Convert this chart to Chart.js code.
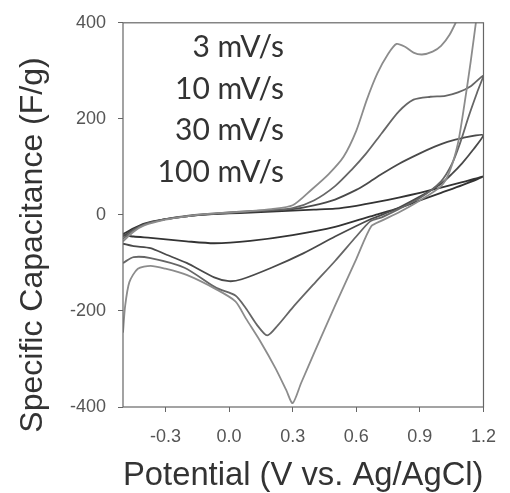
<!DOCTYPE html>
<html>
<head>
<meta charset="UTF-8">
<title>CV</title>
<style>
  body { margin: 0; background: #fff; }
  #wrap { width: 510px; height: 493px; }
</style>
</head>
<body>
<div id="wrap"><canvas id="cvChart" width="510" height="493"></canvas></div>

<script src="https://cdn.jsdelivr.net/npm/chart.js"></script>
<script>
// scan rates (legend text written inside the plot)
const scanRates = ['3 mV/s', '10 mV/s', '30 mV/s', '100 mV/s'];

// each loop: forward scan -0.5 -> 1.2 V, then back to -0.5 V
const pot3 = [-0.5, -0.45, -0.4, -0.3, -0.2, -0.1, 0.0, 0.1, 0.2, 0.3, 0.39, 0.47, 0.54, 0.6, 0.65, 0.7, 0.75, 0.79, 0.83, 0.87, 0.91, 0.96, 1.0, 1.04, 1.08, 1.14, 1.2,
  1.17, 1.14, 1.11, 1.08, 1.04, 1.0, 0.9, 0.8, 0.72, 0.67, 0.6, 0.5, 0.4, 0.34, 0.3, 0.27, 0.22, 0.15, 0.08, 0.03, -0.06, -0.2, -0.3, -0.37, -0.43, -0.47, -0.49, -0.5];
const cap3 = [-55, -35, -22, -10, -3, 2, 5, 8, 12, 20, 53, 85, 121, 175, 240, 295, 335, 356, 350, 338, 334, 340, 352, 375, 410, 460, 520,
  420, 320, 230, 150, 90, 60, 30, 5, -12, -24, -92, -189, -289, -350, -392, -365, -320, -265, -216, -180, -155, -125, -112, -106, -112, -140, -190, -245];

const pot10 = [-0.5, -0.45, -0.4, -0.3, -0.2, -0.1, 0.0, 0.1, 0.2, 0.3, 0.4, 0.5, 0.58, 0.645, 0.72, 0.8, 0.87, 0.95, 1.02, 1.08, 1.14, 1.2,
  1.17, 1.13, 1.09, 1.05, 1.0, 0.9, 0.8, 0.72, 0.667, 0.6, 0.5, 0.4, 0.3, 0.23, 0.18, 0.13, 0.08, 0.03, -0.06, -0.21, -0.37, -0.45, -0.5];
const cap10 = [-50, -32, -20, -9, -2, 2, 5, 8, 10, 14, 30, 60, 95, 127, 170, 215, 240, 246, 248, 255, 268, 290,
  255, 205, 150, 105, 70, 35, 12, -5, -13, -45, -96, -144, -193, -230, -251, -228, -195, -168, -152, -110, -90, -88, -100];

const pot30 = [-0.5, -0.45, -0.4, -0.3, -0.2, -0.1, 0.0, 0.1, 0.2, 0.3, 0.4, 0.5, 0.6, 0.65, 0.72, 0.8, 0.9, 0.97, 1.03, 1.1, 1.2,
  1.15, 1.1, 1.05, 1.0, 0.9, 0.8, 0.72, 0.667, 0.5, 0.35, 0.2, 0.06, 0.0, -0.07, -0.2, -0.3, -0.37, -0.45, -0.5];
const cap30 = [-45, -30, -20, -9, -3, 1, 4, 7, 9, 12, 20, 32, 52, 65, 85, 106, 128, 142, 152, 160, 166,
  135, 108, 85, 65, 38, 15, 0, -9, -45, -80, -110, -134, -138, -130, -100, -82, -69, -65, -60];

const pot100 = [-0.5, -0.45, -0.4, -0.3, -0.2, -0.1, 0.0, 0.1, 0.2, 0.3, 0.4, 0.5, 0.6, 0.7, 0.8, 0.9, 1.0, 1.1, 1.2,
  1.1, 1.0, 0.9, 0.8, 0.7, 0.667, 0.5, 0.3, 0.1, -0.07, -0.2, -0.37, -0.45, -0.5];
const cap100 = [-40, -28, -18, -9, -3, 1, 3, 5, 7, 9, 11, 13, 19, 27, 36, 46, 57, 68, 80,
  62, 46, 30, 14, 1, -3, -25, -42, -54, -59, -55, -48, -45, -42];

const xTicks = [-0.3, 0.0, 0.3, 0.6, 0.9, 1.2];
const yTicks = [-400, -200, 0, 200, 400];

function pts(xs, ys) {
  return xs.map(function(x, i) { return { x: x, y: ys[i] }; });
}

const lineColors = ['#8c8c8c', '#666666', '#4a4a4a', '#333333'];
const loops = [pts(pot3, cap3), pts(pot10, cap10), pts(pot30, cap30), pts(pot100, cap100)];

// frame around plot area, y title and the scan-rate text
const extras = {
  id: 'extras',
  afterDraw(chart) {
    const ctx = chart.ctx;
    const a = chart.chartArea;
    ctx.save();
    ctx.strokeStyle = '#666';
    ctx.lineWidth = 1.2;
    ctx.strokeRect(a.left, a.top, a.right - a.left, a.bottom - a.top);

    ctx.fillStyle = '#333';
    ctx.font = '30px Lato';
    ctx.textAlign = 'right';
    ctx.textBaseline = 'middle';
    const rows = [47, 89, 130, 172];
    scanRates.forEach(function(t, i) { ctx.fillText(t, 284, rows[i]); });

    ctx.translate(33, 245);
    ctx.rotate(-Math.PI / 2);
    ctx.textAlign = 'center';
    ctx.font = '32px "Liberation Sans"';
    ctx.fillText('Specific Capacitance (F/g)', 0, 0);
    ctx.restore();
  }
};

new Chart(document.getElementById('cvChart'), {
  type: 'scatter',
  data: {
    datasets: loops.map(function(d, i) {
      return {
        label: scanRates[i],
        data: d,
        showLine: true,
        borderColor: lineColors[i],
        borderWidth: 1.8,
        pointRadius: 0,
        tension: 0.25
      };
    })
  },
  options: {
    responsive: false,
    animation: false,
    layout: { padding: { top: 20, right: 20, left: 0, bottom: 0 } },
    plugins: { legend: { display: false }, tooltip: { enabled: false } },
    scales: {
      x: {
        type: 'linear',
        min: -0.5,
        max: 1.2,
        afterBuildTicks: function(s) { s.ticks = xTicks.map(function(v) { return { value: v }; }); },
        afterFit: function(s) { s.height = 86; },
        ticks: {
          color: '#555',
          font: { family: 'Liberation Sans', size: 18 },
          padding: 14,
          callback: function(v) { return v.toFixed(1); }
        },
        grid: { drawOnChartArea: false, drawTicks: true, tickLength: 5, color: '#666' },
        border: { display: false },
        title: {
          display: true,
          text: 'Potential (V vs. Ag/AgCl)',
          color: '#333',
          font: { family: 'Liberation Sans', size: 34, lineHeight: 1 },
          padding: { top: 0, bottom: 0 }
        }
      },
      y: {
        min: -400,
        max: 400,
        afterBuildTicks: function(s) { s.ticks = yTicks.map(function(v) { return { value: v }; }); },
        afterFit: function(s) { s.width = 123; },
        ticks: {
          color: '#555',
          font: { family: 'Liberation Sans', size: 18 },
          padding: 12
        },
        grid: { drawOnChartArea: false, drawTicks: true, tickLength: 5, color: '#666' },
        border: { display: false }
      }
    }
  },
  plugins: [extras]
});
</script>
</body>
</html>
